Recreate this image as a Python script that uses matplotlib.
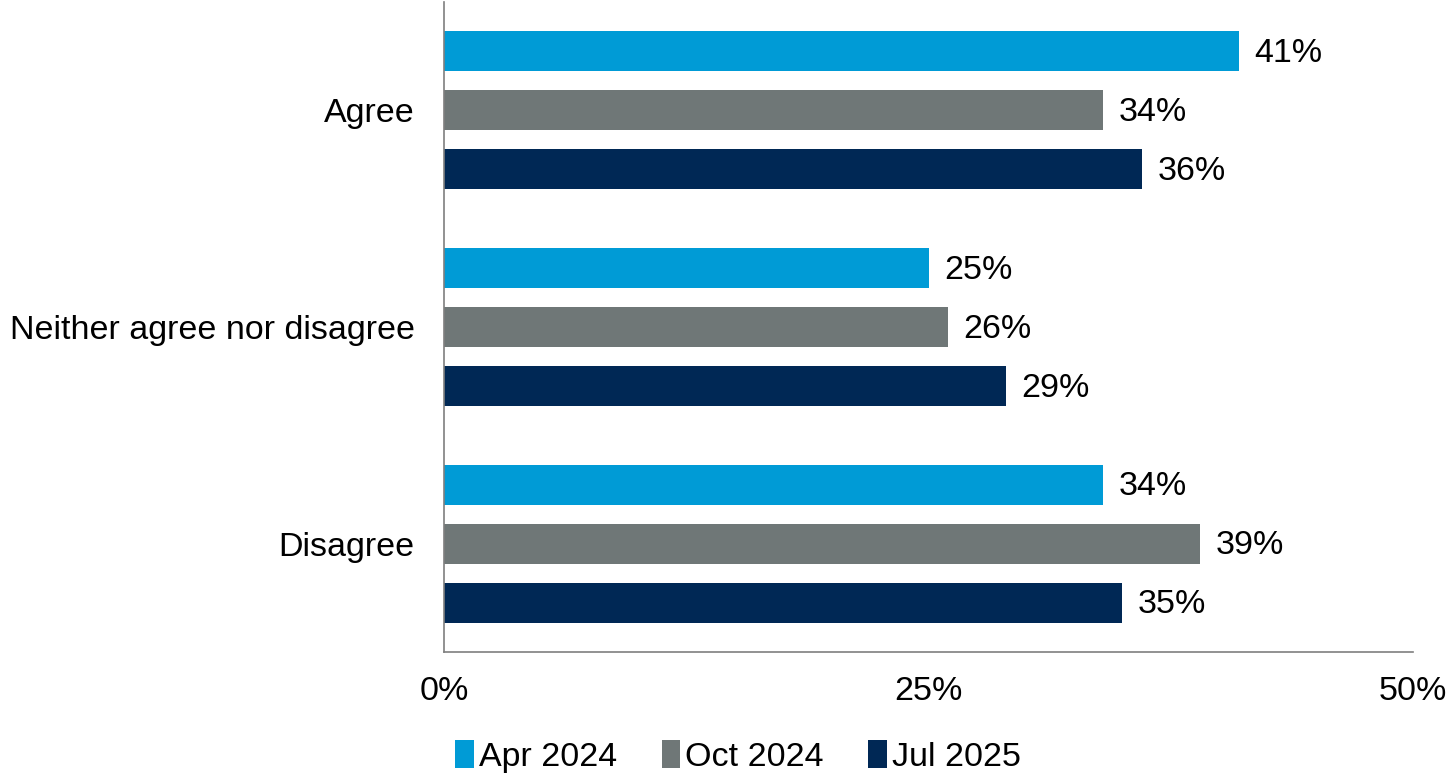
import matplotlib.pyplot as plt
import numpy as np

plt.rcParams['font.family'] = ['Liberation Sans', 'DejaVu Sans']

categories = ["Agree", "Neither agree nor disagree", "Disagree"]
series = ["Apr 2024", "Oct 2024", "Jul 2025"]
apr_2024 = [41, 25, 34]
oct_2024 = [34, 26, 39]
jul_2025 = [36, 29, 35]
colors = ["#009BD6", "#6F7777", "#002855"]

fig = plt.figure(figsize=(14.53, 7.75), dpi=100)
ax = fig.add_axes([0.3056, 0.1587, 0.6669, 0.8387])

y = np.arange(len(categories))
bar_h = 0.185
step = 0.272
for i, (name, vals, c) in enumerate(zip(series, [apr_2024, oct_2024, jul_2025], colors)):
    pos = y + (i - 1) * step
    ax.barh(pos, vals, height=bar_h, color=c, label=name)
    for p, v in zip(pos, vals):
        ax.text(v + 0.8, p + 0.01, f"{v}%", va="center", ha="left", fontsize=24.5)

ax.set_ylim(2.5, -0.5)
ax.set_xlim(0, 50)
ax.set_xticks([0, 25, 50])
ax.set_xticklabels(["0%", "25%", "50%"])
ax.set_yticks(y)
ax.set_yticklabels(categories)
ax.tick_params(axis="both", length=0, labelsize=24.5)
ax.tick_params(axis="x", pad=17)
ax.tick_params(axis="y", pad=21)
for s in ["top", "right"]:
    ax.spines[s].set_visible(False)
for s in ["left", "bottom"]:
    ax.spines[s].set_color("#7F7F7F")
    ax.spines[s].set_linewidth(1.2)

fig.legend(loc="lower center", bbox_to_anchor=(0.508, -0.037), ncol=3, frameon=False,
           fontsize=24.5, handlelength=0.55, handleheight=0.9, handletextpad=0.15,
           columnspacing=1.3)

fig.savefig("out.png", dpi=100)
